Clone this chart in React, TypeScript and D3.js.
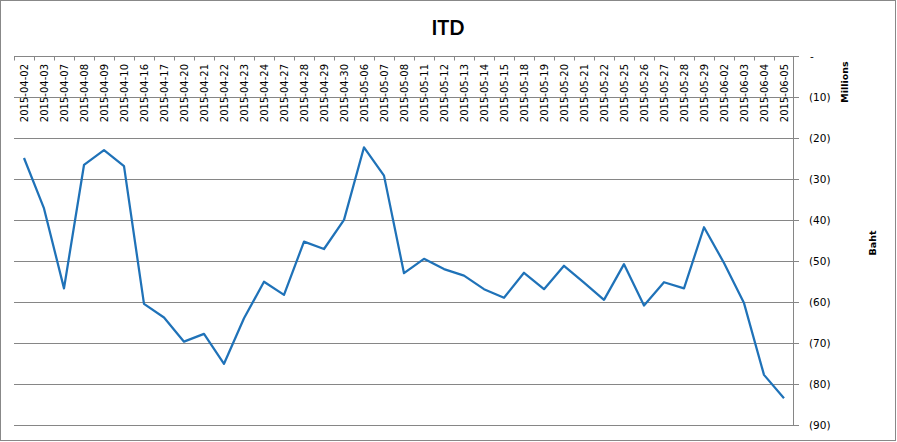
import React from "react";
import * as d3 from "d3";

const categories: string[] = [
  "2015-04-02", "2015-04-03", "2015-04-07", "2015-04-08", "2015-04-09", "2015-04-10",
  "2015-04-16", "2015-04-17", "2015-04-20", "2015-04-21", "2015-04-22", "2015-04-23",
  "2015-04-24", "2015-04-27", "2015-04-28", "2015-04-29", "2015-04-30", "2015-05-06",
  "2015-05-07", "2015-05-08", "2015-05-11", "2015-05-12", "2015-05-13", "2015-05-14",
  "2015-05-15", "2015-05-18", "2015-05-19", "2015-05-20", "2015-05-21", "2015-05-22",
  "2015-05-25", "2015-05-26", "2015-05-27", "2015-05-28", "2015-05-29", "2015-06-02",
  "2015-06-03", "2015-06-04", "2015-06-05",
];

// ITD in millions of Baht
const values: number[] = [
  -24.8, -37.1, -56.6, -26.5, -22.9, -26.8,
  -60.4, -63.7, -69.6, -67.7, -75.0, -63.9,
  -55.0, -58.2, -45.2, -47.0, -39.9, -22.2,
  -29.1, -52.9, -49.4, -51.9, -53.5, -56.8,
  -58.9, -52.8, -56.8, -51.1, -55.2, -59.4,
  -50.7, -60.8, -55.1, -56.6, -41.7, -50.4,
  -60.2, -77.7, -83.4,
];

const yTicks: number[] = [0, -10, -20, -30, -40, -50, -60, -70, -80, -90];

const title = "ITD";
const unitLabel = "Millions";
const axisTitle = "Baht";

const W = 897;
const H = 442;
const plotLeft = 14;
const plotRight = 794;
const plotTop = 56.3;
const plotBottom = 425.3;

const fmt = (v: number) => (v === 0 ? "-" : `(${Math.abs(v)})`);

export default function App() {
  const x = d3.scaleBand<string>().domain(categories).range([plotLeft, plotRight]);
  const y = d3.scaleLinear().domain([0, -90]).range([plotTop, plotBottom]);
  const line = d3
    .line<number>()
    .x((_, i) => (x(categories[i]) as number) + x.bandwidth() / 2)
    .y((d) => y(d));

  const grid = "#868686";
  const tickFont = "'DejaVu Sans', Verdana, sans-serif";

  return (
    <svg
      width={W}
      height={H}
      viewBox={`0 0 ${W} ${H}`}
      style={{ position: "absolute", left: 0, top: 0, background: "#fff" }}
    >
      <rect x={0.5} y={0.5} width={895} height={440} fill="#fff" stroke="#888" strokeWidth={1} />
      <text
        x={448}
        y={35}
        textAnchor="middle"
        fontFamily="Lato, 'Open Sans', sans-serif"
        fontWeight="bold"
        fontSize={20}
        fill="#000"
      >
        {title}
      </text>

      {/* gridlines */}
      {yTicks.map((t) => (
        <line
          key={t}
          x1={plotLeft}
          x2={plotRight}
          y1={Math.round(y(t)) + 0.5}
          y2={Math.round(y(t)) + 0.5}
          stroke={grid}
          strokeWidth={1}
        />
      ))}

      {/* right value axis */}
      <line
        x1={plotRight - 0.5}
        x2={plotRight - 0.5}
        y1={Math.round(plotTop) + 0.5}
        y2={Math.round(plotBottom) + 0.5}
        stroke={grid}
      />
      {yTicks.map((t) => (
        <g key={"yt" + t}>
          <line
            x1={plotRight - 0.5}
            x2={plotRight + 5}
            y1={Math.round(y(t)) + 0.5}
            y2={Math.round(y(t)) + 0.5}
            stroke={grid}
          />
          <text
            x={t === 0 ? 810 : 809}
            y={y(t)}
            dy="0.35em"
            fontFamily={tickFont}
            fontSize={10.5}
            fill="#000"
          >
            {fmt(t)}
          </text>
        </g>
      ))}

      {/* category axis at top */}
      {categories.map((c, i) => (
        <line
          key={"ct" + i}
          x1={Math.round(x(c) as number) + 0.5}
          x2={Math.round(x(c) as number) + 0.5}
          y1={Math.round(plotTop) + 0.5}
          y2={Math.round(plotTop) + 4.5}
          stroke={grid}
        />
      ))}
      {categories.map((c, i) => {
        const cx = (x(c) as number) + x.bandwidth() / 2;
        return (
          <text
            key={"cl" + i}
            transform={`translate(${cx},64) rotate(-90)`}
            textAnchor="end"
            dy="0.35em"
            fontFamily={tickFont}
            fontSize={10}
            fill="#000"
          >
            {c}
          </text>
        );
      })}

      {/* series */}
      <path
        d={line(values) || ""}
        fill="none"
        stroke="#1F72B8"
        strokeWidth={2.25}
        strokeLinejoin="round"
      />

      {/* axis titles */}
      <text
        transform={`translate(845,82) rotate(-90)`}
        textAnchor="middle"
        dy="0.35em"
        fontFamily={tickFont}
        fontWeight="bold"
        fontSize={9.5}
        fill="#000"
      >
        {unitLabel}
      </text>
      <text
        transform={`translate(873,243) rotate(-90)`}
        textAnchor="middle"
        dy="0.35em"
        fontFamily={tickFont}
        fontWeight="bold"
        fontSize={9.5}
        fill="#000"
      >
        {axisTitle}
      </text>
    </svg>
  );
}
